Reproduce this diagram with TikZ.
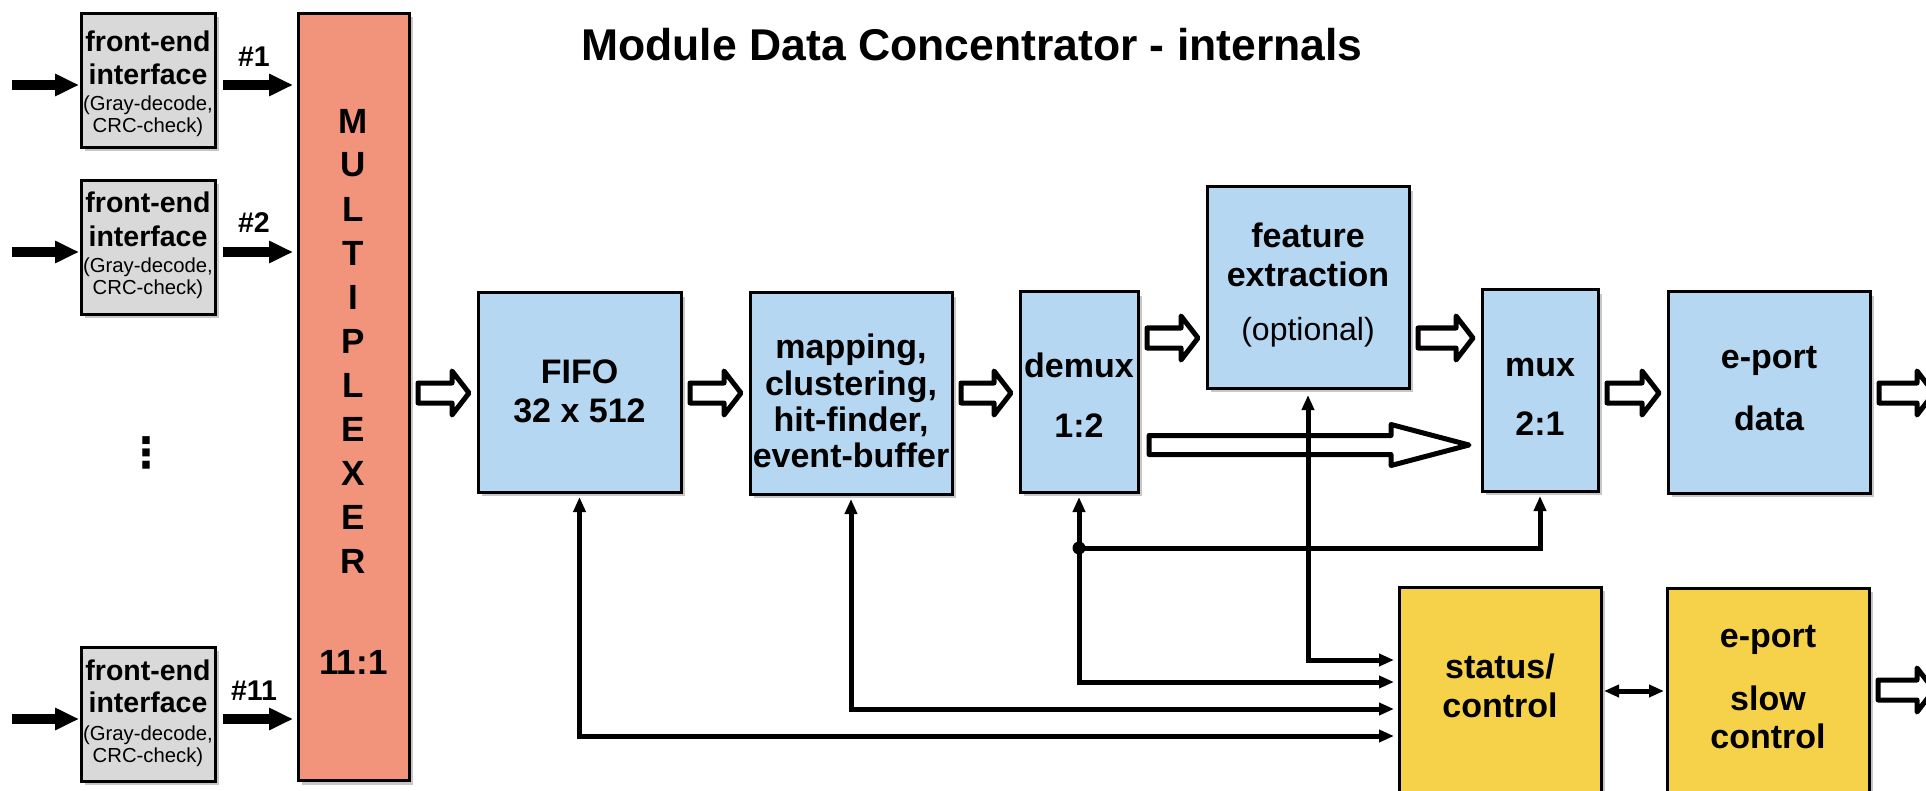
\documentclass[tikz,border=0pt]{standalone}
\usepackage{fontspec}
\setmainfont{Liberation Sans}
\newfontfamily\dejavu{DejaVu Sans}
\usetikzlibrary{arrows.meta,calc,shadows}
\definecolor{feGray}{HTML}{D9D9D9}
\definecolor{muxRed}{HTML}{F2937B}
\definecolor{boxBlue}{HTML}{B6D7F1}
\definecolor{boxYellow}{HTML}{F6D24A}
\newcommand\fsz[1]{\fontsize{#1}{#1}\selectfont}
\newcommand\blockarrow[5]{%
  \draw[hollowarr] ($(#1)+(0pt,#3pt)$) -- ($(#2)+(-#5pt,#3pt)$) -- ($(#2)+(-#5pt,#4pt)$) -- (#2)
   -- ($(#2)+(-#5pt,-#4pt)$) -- ($(#2)+(-#5pt,-#3pt)$) -- ($(#1)+(0pt,-#3pt)$) -- cycle;}
\newcommand\lbl[4]{\node[#1] (#2) at (#3) {#4};}
\begin{document}
\begin{tikzpicture}[x=1pt,y=-1pt,
  every node/.style={inner sep=0pt,outer sep=0pt},
  box/.style={draw=black,line width=3pt,rectangle,
     drop shadow={shadow xshift=4pt,shadow yshift=-4pt,fill=black!22,opacity=1}},
  febox/.style={box,fill=feGray,minimum width=134pt,minimum height=134pt},
  bluebox/.style={box,fill=boxBlue,minimum width=202pt,minimum height=201pt},
  yelbox/.style={box,fill=boxYellow,minimum width=202pt,minimum height=213pt},
  hollowarr/.style={draw=black,fill=white,line width=5pt,line join=round},
  fat/.style={line width=10pt,-{Triangle[length=24pt,width=21pt]}},
  ctl/.style={line width=5pt,-{Triangle[length=15pt,width=12pt]}},
  ctlb/.style={line width=5pt,{Triangle[length=15pt,width=12pt]}-{Triangle[length=15pt,width=12pt]}},
  tb/.style={anchor=base,font=\fsz{34}\bfseries},
  tr/.style={anchor=base,font=\fsz{32}},
  feb/.style={anchor=base,font=\fsz{28.5}\bfseries},
  fer/.style={anchor=base,font=\fsz{20.3}},
  muxl/.style={anchor=center,font=\fsz{35}\bfseries},
]
\path[use as bounding box] (0,0) rectangle (1926,791);
\clip (0,0) rectangle (1926,791);

% title
\lbl{anchor=base,font=\fsz{44.5}\bfseries}{title}{972,61}{Module Data Concentrator - internals}

% front-end boxes
\node[febox] (fe1) at (148,80.5) {};
\node[febox] (fe2) at (148,247.5) {};
\node[febox] (fe11) at (148,714) {};
% multiplexer
\node[box,fill=muxRed,minimum width=111pt,minimum height=767pt] (mux) at (353.5,397) {};
% blue boxes
\node[bluebox,minimum width=203pt,minimum height=199pt] (fifo) at (579.5,392.5) {};
\node[bluebox] (map) at (851,393.5) {};
\node[bluebox,minimum width=118pt,minimum height=200pt] (dmx) at (1079,392) {};
\node[bluebox] (feat) at (1308,287.5) {};
\node[bluebox,minimum width=116pt] (mx) at (1540,390.5) {};
\node[bluebox] (epd) at (1769,392.5) {};
% yellow boxes
\node[yelbox] (stat) at (1500,693.5) {};
\node[yelbox,minimum height=212pt] (eps) at (1768,694) {};

% front-end texts
\lbl{feb}{fe1a}{148,52}{front-end}
\lbl{feb}{fe1b}{148,85}{interface}
\lbl{fer}{fe1c}{148,111}{(Gray-decode,}
\lbl{fer}{fe1d}{148,133}{CRC-check)}
\lbl{feb}{fe2a}{148,213}{front-end}
\lbl{feb}{fe2b}{148,247}{interface}
\lbl{fer}{fe2c}{148,273}{(Gray-decode,}
\lbl{fer}{fe2d}{148,295}{CRC-check)}
\lbl{feb}{fe11a}{148,680}{front-end}
\lbl{feb}{fe11b}{148,712}{interface}
\lbl{fer}{fe11c}{148,740}{(Gray-decode,}
\lbl{fer}{fe11d}{148,762}{CRC-check)}
\lbl{feb}{n1}{254,67}{\#1}
\lbl{feb}{n2}{254,233}{\#2}
\lbl{feb}{n11}{254,700}{\#11}
\lbl{anchor=center,font=\dejavu\bfseries\fsz{42}}{dots}{146,453}{⋮}

% multiplexer letters
\foreach \l [count=\i from 0] in {M,U,L,T,I,P,L,E,X,E,R}{
  \node[muxl] (ml\i) at (353.5,{121+44*\i}) {\l};
}
\lbl{muxl}{mratio}{353.5,662}{11:1}

% blue box texts
\lbl{tb}{fifoa}{579.5,383}{FIFO}
\lbl{tb}{fifob}{579.5,422}{32 x 512}
\lbl{tb}{mapa}{851,358}{mapping,}
\lbl{tb}{mapb}{851,395}{clustering,}
\lbl{tb}{mapc}{851,431}{hit-finder,}
\lbl{tb}{mapd}{851,467}{event-buffer}
\lbl{tb}{dmxa}{1079,377}{demux}
\lbl{tb}{dmxb}{1079,437}{1:2}
\lbl{tb}{feata}{1308,248}{feature}
\lbl{tb}{featb}{1308,287}{extraction}
\lbl{tr}{featc}{1308,341}{(optional)}
\lbl{tb}{mxa}{1540,376}{mux}
\lbl{tb}{mxb}{1540,435}{2:1}
\lbl{tb}{epda}{1769,368}{e-port}
\lbl{tb}{epdb}{1769,430}{data}
\lbl{tb}{stata}{1500,678}{status/}
\lbl{tb}{statb}{1500,717}{control}
\lbl{tb}{epsa}{1768,647}{e-port}
\lbl{tb}{epsb}{1768,710}{slow}
\lbl{tb}{epsc}{1768,748}{control}

% front-end arrows
\coordinate (in1) at (12,85);
\coordinate (in2) at (12,252);
\coordinate (in11) at (12,719);
\foreach \k in {1,2,11}{
  \draw[fat] (in\k) -- ($(fe\k.west |- in\k)+(-2pt,0pt)$);
  \draw[fat] ($(fe\k.east |- in\k)+(8pt,0pt)$) -- ($(mux.west |- in\k)+(-5pt,0pt)$);
}

% y references
\coordinate (yrow) at (0,393);
\coordinate (yfx) at (0,338);
\coordinate (ybig) at (0,445);
\coordinate (yfeat) at (0,660);
\coordinate (ydmx) at (0,682);
\coordinate (ymap) at (0,709);
\coordinate (yfifo) at (0,736);
\coordinate (yjn) at (0,548);
\coordinate (ydbl) at (0,691);

% hollow data arrows
\coordinate (a1s) at ($(mux.east |- yrow)+(9pt,0pt)$);
\coordinate (a1e) at ($(fifo.west |- yrow)+(-9pt,0pt)$);
\blockarrow{a1s}{a1e}{10}{22}{17}
\coordinate (a2s) at ($(fifo.east |- yrow)+(9pt,0pt)$);
\coordinate (a2e) at ($(map.west |- yrow)+(-9pt,0pt)$);
\blockarrow{a2s}{a2e}{10}{22}{17}
\coordinate (a3s) at ($(map.east |- yrow)+(9pt,0pt)$);
\coordinate (a3e) at ($(dmx.west |- yrow)+(-9pt,0pt)$);
\blockarrow{a3s}{a3e}{10}{22}{17}
\coordinate (a4s) at ($(dmx.east |- yfx)+(9pt,0pt)$);
\coordinate (a4e) at ($(feat.west |- yfx)+(-9pt,0pt)$);
\blockarrow{a4s}{a4e}{10}{22}{17}
\coordinate (a5s) at ($(feat.east |- yfx)+(9pt,0pt)$);
\coordinate (a5e) at ($(mx.west |- yfx)+(-9pt,0pt)$);
\blockarrow{a5s}{a5e}{10}{22}{17}
\coordinate (a6s) at ($(mx.east |- yrow)+(9pt,0pt)$);
\coordinate (a6e) at ($(epd.west |- yrow)+(-9pt,0pt)$);
\blockarrow{a6s}{a6e}{10}{22}{17}
\coordinate (o1e) at (1934,393);
\coordinate (a7s) at ($(epd.east |- o1e)+(9pt,0pt)$);
\blockarrow{a7s}{o1e}{10}{22}{17}
\coordinate (o2e) at (1934,690);
\coordinate (a8s) at ($(eps.east |- o2e)+(9pt,0pt)$);
\blockarrow{a8s}{o2e}{10}{22}{17}
% long bypass arrow
\coordinate (a9s) at ($(dmx.east |- ybig)+(11pt,0pt)$);
\coordinate (a9e) at ($(mx.west |- ybig)+(-13pt,0pt)$);
\blockarrow{a9s}{a9e}{9.5}{20.5}{78}

% control lines
\draw[ctlb] ([yshift=-5pt]fifo.south) |- ($(stat.west |- yfifo)+(-5pt,0pt)$);
\draw[ctlb] ([yshift=-5pt]map.south) |- ($(stat.west |- ymap)+(-5pt,0pt)$);
\draw[ctlb] ([yshift=-5pt]dmx.south) |- ($(stat.west |- ydmx)+(-5pt,0pt)$);
\draw[ctlb] ([yshift=-7pt]feat.south) |- ($(stat.west |- yfeat)+(-5pt,0pt)$);
\coordinate (jn) at (dmx.south |- yjn);
\draw[ctl] (jn) -| ([yshift=-5pt]mx.south);
\fill (jn) circle (6.5pt);
\draw[ctlb] ($(stat.east |- ydbl)+(3pt,0pt)$) -- ($(eps.west |- ydbl)+(-3pt,0pt)$);
\end{tikzpicture}
\end{document}
